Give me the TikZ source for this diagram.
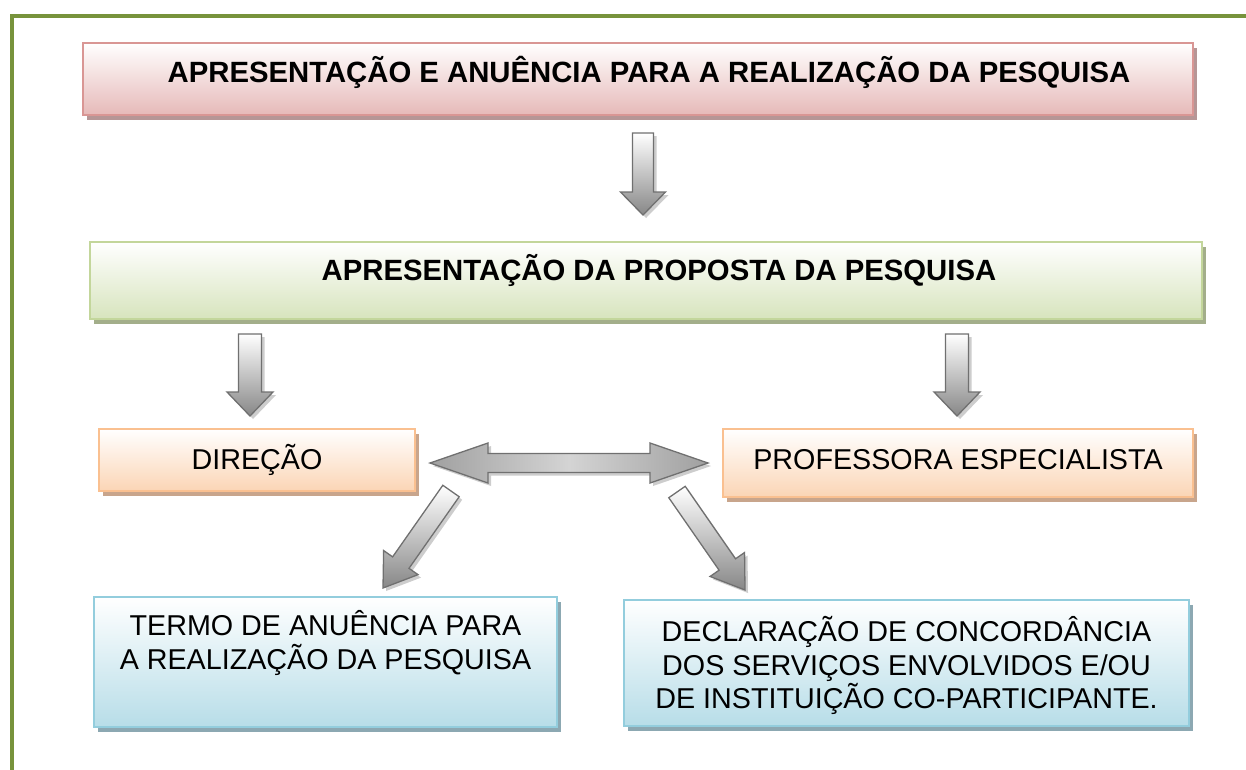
\documentclass[tikz,border=0pt]{standalone}
\usepackage{fontspec}
\setmainfont{Liberation Sans}
\usetikzlibrary{calc,shadows}
\definecolor{frameGreen}{RGB}{119,147,60}
\definecolor{pinkLine}{RGB}{217,150,148}
\definecolor{pinkFill}{RGB}{230,185,184}
\definecolor{pinkShadow}{RGB}{182,150,150}
\definecolor{greenLine}{RGB}{195,214,155}
\definecolor{greenFill}{RGB}{215,228,189}
\definecolor{greenShadow}{RGB}{163,174,138}
\definecolor{orangeLine}{RGB}{250,192,144}
\definecolor{orangeFill}{RGB}{251,213,181}
\definecolor{orangeShadow}{RGB}{200,165,140}
\definecolor{blueLine}{RGB}{147,205,221}
\definecolor{blueFill}{RGB}{183,221,232}
\definecolor{blueShadow}{RGB}{140,168,178}
\definecolor{arrowLine}{RGB}{112,112,112}
\definecolor{arrowDark}{RGB}{135,135,135}
\definecolor{arrowEnd}{RGB}{160,160,160}
\definecolor{arrowMid}{RGB}{212,212,212}
\definecolor{arrowShadow}{RGB}{205,205,205}

\tikzset{
  flowbox/.style={rectangle, line width=2pt, inner xsep=0pt, inner ysep=0pt,
    anchor=north west, align=center},
  boldtext/.style={font=\fontsize{29.3}{34}\selectfont\bfseries},
  plaintext/.style={font=\fontsize{28.7}{33.5}\selectfont},
  pinkbox/.style={flowbox, boldtext, draw=pinkLine, top color=white, bottom color=pinkFill,
    drop shadow={shadow xshift=4pt, shadow yshift=-5pt, fill=pinkShadow, opacity=1}},
  greenbox/.style={flowbox, boldtext, draw=greenLine, top color=white, bottom color=greenFill,
    drop shadow={shadow xshift=4pt, shadow yshift=-5pt, fill=greenShadow, opacity=1}},
  orangebox/.style={flowbox, plaintext, draw=orangeLine, top color=white, bottom color=orangeFill,
    drop shadow={shadow xshift=4pt, shadow yshift=-5pt, fill=orangeShadow, opacity=1}},
  bluebox/.style={flowbox, plaintext, draw=blueLine, top color=white, bottom color=blueFill,
    drop shadow={shadow xshift=4pt, shadow yshift=-5pt, fill=blueShadow, opacity=1}},
  blockarr/.style={draw=arrowLine, line width=1.3pt, line join=miter,
    top color=white, bottom color=arrowDark,
    drop shadow={shadow xshift=3pt, shadow yshift=-3pt, fill=arrowShadow, opacity=1}},
  dblarr/.style={draw=arrowLine, line width=1.3pt, line join=miter,
    left color=arrowEnd, right color=arrowEnd, middle color=arrowMid,
    drop shadow={shadow xshift=3pt, shadow yshift=-3pt, fill=arrowShadow, opacity=1}},
}

% single block arrow: #1 start, #2 tip, #3 shaft half width, #4 head half width, #5 head length
\newcommand\blockarrow[5]{%
  \draw[blockarr] let \p1=(#1), \p2=(#2),
      \n1={atan2(\y2-\y1,\x2-\x1)}, \n2={veclen(\x2-\x1,\y2-\y1)} in
    ($(\p1)+({\n1+90}:#3)$)
    -- ($(\p1)+(\n1:{\n2-#5})+({\n1+90}:#3)$)
    -- ($(\p1)+(\n1:{\n2-#5})+({\n1+90}:#4)$)
    -- (\p2)
    -- ($(\p1)+(\n1:{\n2-#5})+({\n1-90}:#4)$)
    -- ($(\p1)+(\n1:{\n2-#5})+({\n1-90}:#3)$)
    -- ($(\p1)+({\n1-90}:#3)$) -- cycle;}

% double block arrow: #1 tip one, #2 tip two, #3 shaft half width, #4 head half width, #5 head length
\newcommand\dblblockarrow[5]{%
  \draw[dblarr] let \p1=(#1), \p2=(#2),
      \n1={atan2(\y2-\y1,\x2-\x1)}, \n2={veclen(\x2-\x1,\y2-\y1)} in
    (\p1)
    -- ($(\p1)+(\n1:#5)+({\n1+90}:#4)$)
    -- ($(\p1)+(\n1:#5)+({\n1+90}:#3)$)
    -- ($(\p1)+(\n1:{\n2-#5})+({\n1+90}:#3)$)
    -- ($(\p1)+(\n1:{\n2-#5})+({\n1+90}:#4)$)
    -- (\p2)
    -- ($(\p1)+(\n1:{\n2-#5})+({\n1-90}:#4)$)
    -- ($(\p1)+(\n1:{\n2-#5})+({\n1-90}:#3)$)
    -- ($(\p1)+(\n1:#5)+({\n1-90}:#3)$)
    -- ($(\p1)+(\n1:#5)+({\n1-90}:#4)$) -- cycle;}

\begin{document}
\begin{tikzpicture}[x=1pt, y=1pt]
\useasboundingbox (0,0) rectangle (1246,-769);
\clip (0,0) rectangle (1246,-769);

% outer frame
\draw[frameGreen, line width=4pt] (12,-800) -- (12,-16) -- (1300,-16);

% boxes
\node[pinkbox, minimum width=1110pt, minimum height=72pt, text height=39pt, text depth=33pt]
  (title) at (82,-42) {\hspace*{22pt}APRESENTAÇÃO E ANUÊNCIA PARA A REALIZAÇÃO DA PESQUISA};
\node[greenbox, minimum width=1112pt, minimum height=77pt, text height=38pt, text depth=39pt]
  (proposta) at (89,-241) {\hspace*{26pt}APRESENTAÇÃO DA PROPOSTA DA PESQUISA};
\node[orangebox, minimum width=316pt, minimum height=62pt, text height=40pt, text depth=22pt]
  (direcao) at (98,-428) {DIREÇÃO};
\node[orangebox, minimum width=470pt, minimum height=68pt, text height=40pt, text depth=28pt]
  (professora) at (722,-428) {PROFESSORA ESPECIALISTA};
\node[bluebox, minimum width=463pt, minimum height=130pt, text height=72pt, text depth=58pt]
  (termo) at (93,-596) {TERMO DE ANUÊNCIA PARA\\A REALIZAÇÃO DA PESQUISA};
\node[bluebox, minimum width=565pt, minimum height=126pt, text height=108.5pt, text depth=17.5pt]
  (declaracao) at (623,-599) {DECLARAÇÃO DE CONCORDÂNCIA\\DOS SERVIÇOS ENVOLVIDOS E/OU\\DE INSTITUIÇÃO CO-PARTICIPANTE.};

% arrow end points
\coordinate (a1s) at (643,-133);
\coordinate (a1e) at (643,-215);
\coordinate (a2s) at (250,-334);
\coordinate (a2e) at (250,-416);
\coordinate (a3s) at (957,-334);
\coordinate (a3e) at (957,-416);
\coordinate (d1) at (430,-463);
\coordinate (d2) at (708,-463);
\coordinate (l1s) at (451,-491);
\coordinate (l1e) at (383,-588);
\coordinate (r1s) at (677,-492);
\coordinate (r1e) at (745,-590);

% arrows
\blockarrow{a1s}{a1e}{10.5}{22.5}{23}
\blockarrow{a2s}{a2e}{11.5}{23}{24}
\blockarrow{a3s}{a3e}{11.5}{23}{24}
\dblblockarrow{d1}{d2}{9.5}{20}{58}
\blockarrow{l1s}{l1e}{10}{21}{31}
\blockarrow{r1s}{r1e}{10}{21}{31}
\end{tikzpicture}
\end{document}
